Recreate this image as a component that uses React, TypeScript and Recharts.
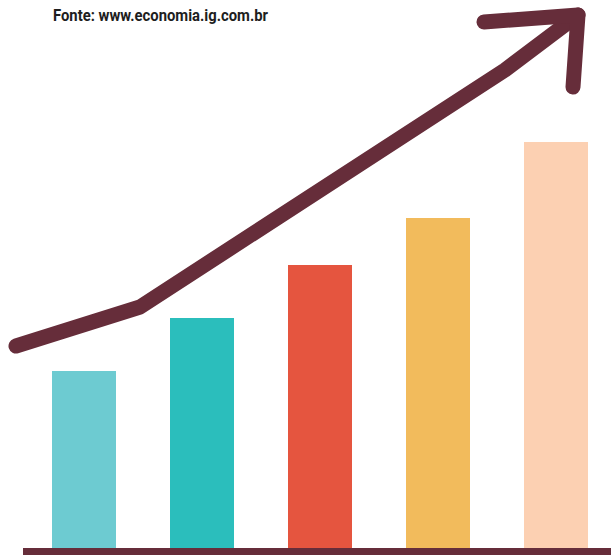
import { ComposedChart, Bar, Cell, Line, XAxis, YAxis, ReferenceLine } from "recharts";

// bar categories and heights (chart units, baseline = 0)
const categories = ["1", "2", "3", "4", "5"];
const values = [177, 230, 283, 330, 406];
const barColors = ["#6dcbd1", "#2bbebc", "#e5553f", "#f2bb5c", "#fcd0b2"];

// trend arrow (x along the chart, y above baseline)
const arrowX = [16, 140, 505, 578];
const arrowY = [202, 241, 478, 533];
const headX = [484, 578, 573];
const headY = [526, 533, 461];

const maroon = "#662d3a";

const data = categories.map((name, i) => ({ name, value: values[i] }));
const arrow = arrowX.map((x, i) => ({ x, y: arrowY[i] }));
const head = headX.map((x, i) => ({ x, y: headY[i] }));

export default function App() {
  return (
    <div style={{ position: "absolute", left: 0, top: 0, width: 611, height: 555, overflow: "hidden", background: "#fff" }}>
      <ComposedChart width={615} height={555} data={data} margin={{ top: 0, right: 0, bottom: 7, left: 0 }}>
        <XAxis dataKey="name" hide padding={{ left: 25, right: 0 }} />
        <XAxis xAxisId="ax" type="number" dataKey="x" domain={[0, 615]} hide />
        <YAxis domain={[0, 548]} hide />
        <Bar dataKey="value" barSize={64} isAnimationActive={false}>
          {data.map((d, i) => (
            <Cell key={d.name} fill={barColors[i]} />
          ))}
        </Bar>
        <ReferenceLine
          xAxisId="ax"
          segment={[{ x: 23, y: -3.5 }, { x: 615, y: -3.5 }]}
          stroke={maroon}
          strokeWidth={7}
          ifOverflow="visible"
        />
        <Line
          xAxisId="ax"
          data={arrow}
          dataKey="y"
          stroke={maroon}
          strokeWidth={15}
          strokeLinecap="round"
          strokeLinejoin="round"
          dot={false}
          activeDot={false}
          isAnimationActive={false}
        />
        <Line
          xAxisId="ax"
          data={head}
          dataKey="y"
          stroke={maroon}
          strokeWidth={15}
          strokeLinecap="round"
          strokeLinejoin="round"
          dot={false}
          activeDot={false}
          isAnimationActive={false}
        />
      </ComposedChart>
      <svg width={320} height={32} style={{ position: "absolute", left: 0, top: 0 }}>
        <text
          x={53}
          y={21}
          textLength={215}
          lengthAdjust="spacingAndGlyphs"
          fontFamily="Roboto, 'DejaVu Sans', sans-serif"
          fontWeight={700}
          fontSize={17}
          fill="#1e1e1e"
        >
          Fonte: www.economia.ig.com.br
        </text>
      </svg>
    </div>
  );
}
